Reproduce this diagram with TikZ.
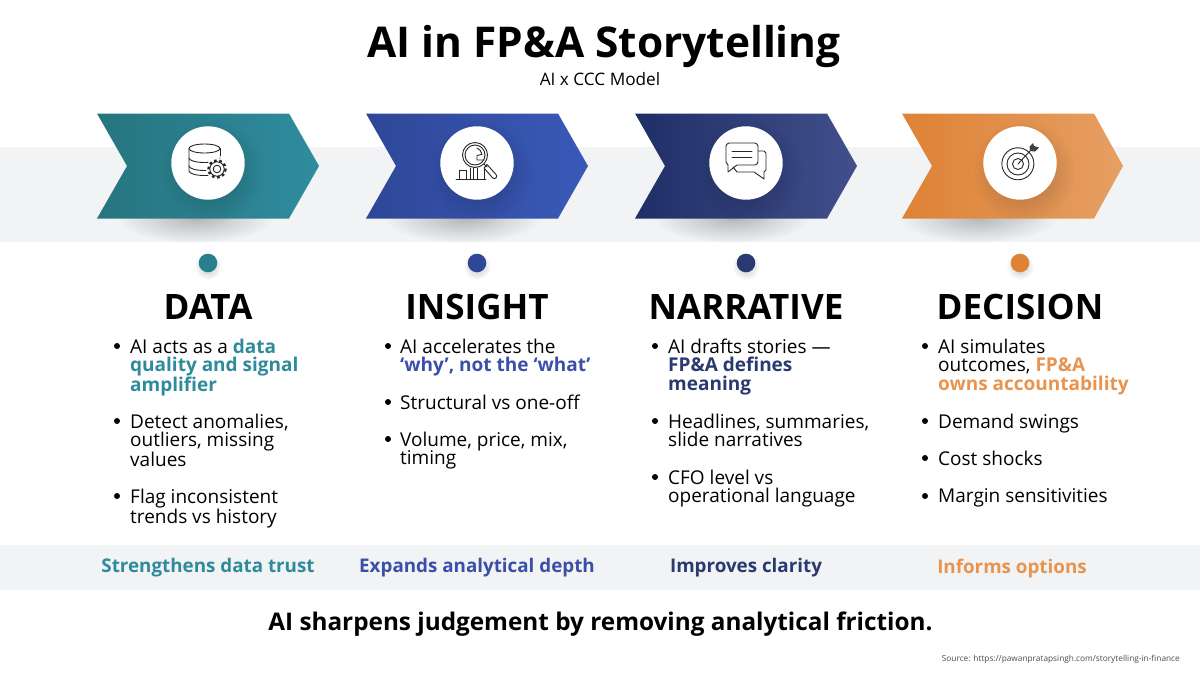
\documentclass[tikz,border=0pt]{standalone}
\usepackage{fontspec}
\setmainfont{Open Sans}
\usetikzlibrary{fadings}

\definecolor{tealA}{HTML}{26757F}
\definecolor{tealB}{HTML}{2F8C9E}
\definecolor{blueA}{HTML}{2E4797}
\definecolor{blueB}{HTML}{3A59B8}
\definecolor{navyA}{HTML}{1F2F66}
\definecolor{navyB}{HTML}{414F8C}
\definecolor{orngA}{HTML}{DE8236}
\definecolor{orngB}{HTML}{E69F63}
\definecolor{bandgray}{HTML}{F1F3F5}
\definecolor{tealtxt}{HTML}{2F8B9C}
\definecolor{tealdot}{HTML}{28808F}
\definecolor{bluetxt}{HTML}{3A50A8}
\definecolor{navytxt}{HTML}{2A3A70}
\definecolor{orngtxt}{HTML}{E8944F}

\tikzfading[name=softspot, inner color=transparent!76, outer color=transparent!100]

\tikzset{
	spot/.style={fill=black, path fading=softspot},
	disc/.style={circle, fill=white, minimum size=73.4pt, inner sep=0},
	dot/.style={circle, minimum size=18.6pt, inner sep=0},
	heading/.style={font=\fontsize{35}{38}\selectfont\bfseries},
	body/.style={anchor=north west, align=left, inner sep=0, yshift=-0.5pt, font=\fontsize{19}{18.7}\selectfont, execute at begin node=\strut},
	tick/.style={circle, fill=black, minimum size=6pt, inner sep=0},
	result/.style={font=\fontsize{18.8}{20}\selectfont\bfseries},
	icon/.style={line width=0.9pt, black!85, line join=round, line cap=round},
}

\begin{document}
\begin{tikzpicture}[x=1pt, y=-1pt]
	\useasboundingbox (0,0) rectangle (1200,675);

	% grey bands
	\fill[bandgray] (0,147) rectangle (1200,242);
	\fill[bandgray] (0,545) rectangle (1200,590);

	% title
	\node (title) at (604,46) {\fontsize{42.4}{45}\selectfont\bfseries AI in FP\&A Storytelling};
	\node (subtitle) at (600,79) {\fontsize{17.2}{19}\selectfont AI x CCC Model};

	% chevron shadows
	\fill[spot] (195,219) ellipse (78 and 24);
	\fill[spot] (463,219) ellipse (78 and 24);
	\fill[spot] (732,219) ellipse (78 and 24);
	\fill[spot] (978,219) ellipse (78 and 24);

	% chevrons
	\shade[left color=tealA, right color=tealB] (97,113.5) -- (289,113.5) -- (319,166) -- (289,218.5) -- (97,218.5) -- (127,166) -- cycle;
	\shade[left color=blueA, right color=blueB] (366,113.5) -- (558,113.5) -- (588,166) -- (558,218.5) -- (366,218.5) -- (396,166) -- cycle;
	\shade[left color=navyA, right color=navyB] (635,113.5) -- (827,113.5) -- (857,166) -- (827,218.5) -- (635,218.5) -- (665,166) -- cycle;
	\shade[left color=orngA, right color=orngB] (902,113.5) -- (1094,113.5) -- (1123,166) -- (1094,218.5) -- (902,218.5) -- (932,166) -- cycle;

	% disc shadows
	\fill[spot] (212,172) circle (52);
	\fill[spot] (481,172) circle (52);
	\fill[spot] (750,172) circle (52);
	\fill[spot] (1024,172) circle (52);

	\node[disc] (c1) at (208,163) {};
	\node[disc] (c2) at (477,163) {};
	\node[disc] (c3) at (746,163) {};
	\node[disc] (c4) at (1020,163) {};

	% database icon
	\begin{scope}[icon]
		\draw (204.5,148.5) ellipse (15.5 and 4.5);
		\draw (189,148.5) -- (189,171) arc[start angle=180, end angle=360, x radius=15.5, y radius=-4.5];
		\draw (220,148.5) -- (220,156);
		\draw (189,158) arc[start angle=180, end angle=360, x radius=15.5, y radius=-4.5];
		\draw (189,166) arc[start angle=180, end angle=360, x radius=15.5, y radius=-4.5];
		\fill[white] (217,169) circle (11);
		\draw[line width=2.6pt, line cap=butt, dash pattern=on 2.6pt off 2.6pt] (217,169) circle (8.4);
		\draw[fill=white] (217,169) circle (7.2);
		\draw (217,169) circle (3.8);
	\end{scope}

	% magnifier icon
	\begin{scope}[icon]
		\draw (475,155) circle (12.5);
		\draw (475,155) circle (10);
		\draw (477,148) arc[start angle=-70, end angle=-5, radius=7.5] -- (477,155.5) -- (477,160) -- (484,160);
		\draw (484,164) -- (487,167);
		\draw (487,164.5) -- (496,174.5) arc[start angle=-45, end angle=135, radius=2.4] -- (484,168) -- cycle;
		\draw (456,179) -- (486,179);
		\draw (459,179) -- (459,170.5) -- (466,170.5) -- (466,179);
		\draw (470,179) -- (470,168);
		\draw (473.5,179) -- (473.5,168);
		\draw (477.5,179) -- (477.5,168);
		\draw (484,179) -- (484,169);
	\end{scope}

	% speech bubbles icon
	\begin{scope}[icon]
		\draw (758,151) -- (764,151) to[bend left=30] (766,153) -- (766,170) to[bend left=30] (764,172) -- (764,179) -- (754,172) -- (737,172) -- (733,167);
		\draw (729,143) -- (755,143) to[bend left=30] (758,146) -- (758,162) to[bend left=30] (755,165) -- (737,165) -- (728,172) -- (728,165) to[bend left=30] (726,162) -- (726,146) to[bend left=30] (729,143);
		\draw (732,151) -- (752,151);
		\draw (732,157) -- (752,157);
	\end{scope}

	% target icon
	\begin{scope}[icon]
		\draw (1027.5,151) arc[start angle=-53, end angle=307, radius=16];
		\draw (1018,164) circle (11);
		\draw (1018,164) circle (5.5);
		\draw (1018,164) -- (1030,151);
		\fill[black!75] (1030,151) -- (1029.5,146.5) -- (1033,143) -- (1034,146) -- (1039,147.5) -- (1035,151.5) -- cycle;
	\end{scope}

	% dots
	\fill[spot] (208,266) circle (14);
	\fill[spot] (477,266) circle (14);
	\fill[spot] (746,266) circle (14);
	\fill[spot] (1020,266) circle (14);
	\node[dot, fill=tealdot] (p1) at (208,263) {};
	\node[dot, fill=blueA] (p2) at (477,263) {};
	\node[dot, fill=navytxt] (p3) at (746,263) {};
	\node[dot, fill=orngA] (p4) at (1020,263) {};

	% headings
	\node[heading] (h1) at (208,307) {DATA};
	\node[heading] (h2) at (477,307) {INSIGHT};
	\node[heading] (h3) at (746,307) {NARRATIVE};
	\node[heading] (h4) at (1020,307) {DECISION};

	% first column
	\node[tick] (t1) at (117,346) {};
	\node[body] (b1) at (130,338) {AI acts as a \textcolor{tealtxt}{\textbf{data}}\\\textcolor{tealtxt}{\textbf{quality and signal}}\\\textcolor{tealtxt}{\textbf{amplifier}}};
	\node[tick] (t2) at (117,421) {};
	\node[body] (b2) at (130,413) {Detect anomalies,\\outliers, missing\\values};
	\node[tick] (t3) at (117,496) {};
	\node[body] (b3) at (130,488) {Flag inconsistent\\trends vs history};

	% second column
	\node[tick] (t4) at (388,346) {};
	\node[body] (b4) at (400,338) {AI accelerates the\\\textcolor{bluetxt}{\textbf{‘why’, not the ‘what’}}};
	\node[tick] (t5) at (388,402) {};
	\node[body] (b5) at (400,394) {Structural vs one-off};
	\node[tick] (t6) at (388,439) {};
	\node[body] (b6) at (400,431) {Volume, price, mix,\\timing};

	% third column
	\node[tick] (t7) at (655,346) {};
	\node[body] (b7) at (668,338) {AI drafts stories —\\\textcolor{navytxt}{\textbf{FP\&A defines}}\\\textcolor{navytxt}{\textbf{meaning}}};
	\node[tick] (t8) at (655,421) {};
	\node[body] (b8) at (668,413) {Headlines, summaries,\\slide narratives};
	\node[tick] (t9) at (655,477) {};
	\node[body] (b9) at (668,469) {CFO level vs\\operational language};

	% fourth column
	\node[tick] (t10) at (925,346) {};
	\node[body] (b10) at (938,338) {AI simulates\\outcomes, \textcolor{orngtxt}{\textbf{FP\&A}}\\\textcolor{orngtxt}{\textbf{owns accountability}}};
	\node[tick] (t11) at (925,421) {};
	\node[body] (b11) at (938,413) {Demand swings};
	\node[tick] (t12) at (925,458) {};
	\node[body] (b12) at (938,450) {Cost shocks};
	\node[tick] (t13) at (925,496) {};
	\node[body] (b13) at (938,488) {Margin sensitivities};

	% band labels
	\node[result, text=tealtxt] (r1) at (208,568) {Strengthens data trust};
	\node[result, text=bluetxt] (r2) at (477,568) {Expands analytical depth};
	\node[result, text=navytxt] (r3) at (746,568) {Improves clarity};
	\node[result, text=orngtxt] (r4) at (1012,569) {Informs options};

	% closing line and source
	\node (closing) at (600.5,624) {\fontsize{24.3}{27}\selectfont\bfseries AI sharpens judgement by removing analytical friction.};
	\node[anchor=east, inner sep=0, text=black!70] (source) at (1180,659) {\fontsize{8.3}{10}\selectfont Source: https://pawanpratapsingh.com/storytelling-in-finance};
\end{tikzpicture}
\end{document}
